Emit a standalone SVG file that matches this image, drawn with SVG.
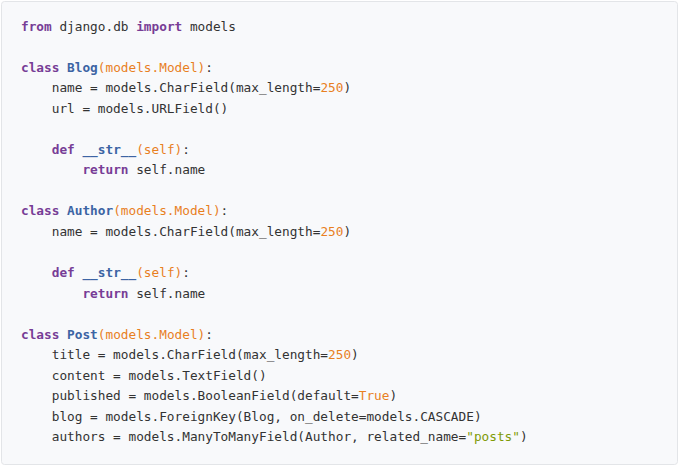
<svg xmlns="http://www.w3.org/2000/svg" width="679" height="467" viewBox="0 0 679 467">
<style>
text{font-family:"DejaVu Sans Mono","Liberation Mono",monospace;font-size:12.75px;fill:#333;white-space:pre}
.k{fill:#773d96;font-weight:bold}
.c{fill:#3c64a4;font-weight:bold}
.o{fill:#e8801f}
.s{fill:#7f9a05}
</style>
<rect x="1.5" y="1.5" width="676" height="463" rx="3" fill="#f8f9fb" stroke="#e3e5e8"/>
<g id="code">
<text x="21" y="31"><tspan class="k">from</tspan> django.db <tspan class="k">import</tspan> models</text>
<text x="21" y="72"><tspan class="k">class</tspan> <tspan class="c">Blog</tspan><tspan class="o">(models.Model)</tspan>:</text>
<text x="21" y="92">    name = models.CharField(max_length=<tspan class="o">250</tspan>)</text>
<text x="21" y="113">    url = models.URLField()</text>
<text x="21" y="154">    <tspan class="k">def</tspan> <tspan class="c">__str__</tspan><tspan class="o">(self)</tspan>:</text>
<text x="21" y="174">        <tspan class="k">return</tspan> self.name</text>
<text x="21" y="215"><tspan class="k">class</tspan> <tspan class="c">Author</tspan><tspan class="o">(models.Model)</tspan>:</text>
<text x="21" y="236">    name = models.CharField(max_length=<tspan class="o">250</tspan>)</text>
<text x="21" y="277">    <tspan class="k">def</tspan> <tspan class="c">__str__</tspan><tspan class="o">(self)</tspan>:</text>
<text x="21" y="298">        <tspan class="k">return</tspan> self.name</text>
<text x="21" y="339"><tspan class="k">class</tspan> <tspan class="c">Post</tspan><tspan class="o">(models.Model)</tspan>:</text>
<text x="21" y="359">    title = models.CharField(max_length=<tspan class="o">250</tspan>)</text>
<text x="21" y="380">    content = models.TextField()</text>
<text x="21" y="400">    published = models.BooleanField(default=<tspan class="o">True</tspan>)</text>
<text x="21" y="421">    blog = models.ForeignKey(Blog, on_delete=models.CASCADE)</text>
<text x="21" y="441">    authors = models.ManyToManyField(Author, related_name=<tspan class="s">"posts"</tspan>)</text>
</g>
</svg>
